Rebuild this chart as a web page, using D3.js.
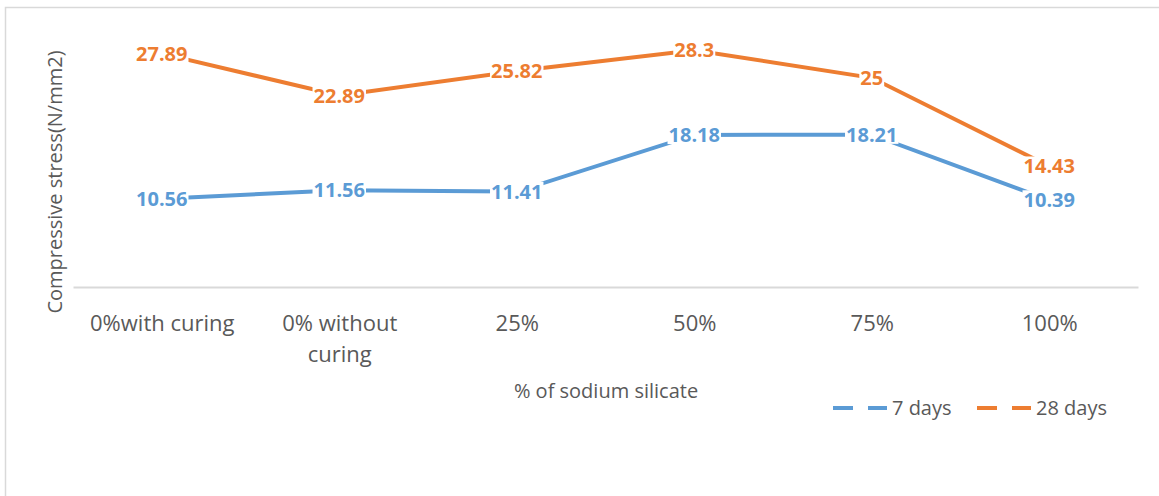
<!DOCTYPE html>
<html>
<head>
<meta charset="utf-8">
<script src="https://cdn.jsdelivr.net/npm/d3@7"></script>
<style>
  body { margin: 0; background: #fff; }
  text { font-family: "Open Sans", sans-serif; }
</style>
</head>
<body>
<svg id="chart"></svg>
<script>
var categories = ["0%with curing", "0% without curing", "25%", "50%", "75%", "100%"];
var days7 = [10.56, 11.56, 11.41, 18.18, 18.21, 10.39];
var days28 = [27.89, 22.89, 25.82, 28.3, 25, 14.43];
var seriesNames = ["7 days", "28 days"];
var colors = ["#5B9BD5", "#ED7D31"];

function drawChart() {
    var svg = d3.select("#chart");
    var width = 1159, height = 496;
    svg.attr("width", width).attr("height", height);

    // chart frame
    svg.append("rect")
        .attr("x", 5.5).attr("y", 7.5)
        .attr("width", width + 10).attr("height", height + 10)
        .attr("fill", "none").attr("stroke", "#d9d9d9").attr("stroke-width", 1.5);

    var xScale = d3.scalePoint().domain(categories).range([73, 1138]).padding(0.5);
    var yScale = d3.scaleLinear().domain([0, 30]).range([287, 36]);

    var xAxis = d3.axisBottom(xScale).tickSize(0);
    var gx = svg.append("g").attr("transform", "translate(0,287)").call(xAxis);
    gx.select(".domain").attr("stroke", "#d9d9d9").attr("stroke-width", 2);
    gx.selectAll(".tick text")
        .attr("y", 44).attr("dy", 0)
        .attr("fill", "#595959")
        .style("font-size", "22px")
        .call(wrap, 170);

    // axis titles
    svg.append("text")
        .attr("transform", "translate(62,182) rotate(-90)")
        .attr("text-anchor", "middle")
        .attr("fill", "#595959")
        .style("font-size", "20px")
        .text("Compressive stress(N/mm2)");

    svg.append("text")
        .attr("x", 606).attr("y", 398)
        .attr("text-anchor", "middle")
        .attr("fill", "#595959")
        .style("font-size", "20px")
        .text("% of sodium silicate");

    var line = d3.line()
        .x(function(d, i) { return xScale(categories[i]); })
        .y(function(d) { return yScale(d); });

    var allSeries = [days7, days28];
    allSeries.forEach(function(values, s) {
        svg.append("path")
            .attr("d", line(values))
            .attr("fill", "none")
            .attr("stroke", colors[s])
            .attr("stroke-width", 4);
    });

    allSeries.forEach(function(values, s) {
        values.forEach(function(v, i) {
            var g = svg.append("g");
            var t = g.append("text")
                .attr("x", xScale(categories[i]))
                .attr("y", yScale(v))
                .attr("dy", "0.36em")
                .attr("text-anchor", "middle")
                .attr("fill", colors[s])
                .style("font-size", "20px")
                .style("font-weight", "bold")
                .text(v);
            var bb = t.node().getBBox();
            g.insert("rect", "text")
                .attr("x", bb.x - 1).attr("y", bb.y + 4)
                .attr("width", bb.width + 2).attr("height", bb.height - 8)
                .attr("fill", "#fff");
        });
    });

    // legend
    var legendX = [833, 977];
    seriesNames.forEach(function(name, s) {
        svg.append("line")
            .attr("x1", legendX[s]).attr("y1", 408)
            .attr("x2", legendX[s] + 54).attr("y2", 408)
            .attr("stroke", colors[s]).attr("stroke-width", 4)
            .attr("stroke-dasharray", "20,15");
        svg.append("text")
            .attr("x", legendX[s] + 59).attr("y", 415)
            .attr("fill", "#595959")
            .style("font-size", "20px")
            .text(name);
    });
}

function wrap(texts, maxWidth) {
    texts.each(function() {
        var text = d3.select(this);
        var words = text.text().split(" ");
        var y = text.attr("y");
        text.text(null);
        var lines = [];
        var current = [];
        var tspan = text.append("tspan").attr("x", 0).attr("y", y);
        words.forEach(function(w) {
            current.push(w);
            tspan.text(current.join(" "));
            if (tspan.node().getComputedTextLength() > maxWidth && current.length > 1) {
                current.pop();
                lines.push(current.join(" "));
                current = [w];
            }
        });
        lines.push(current.join(" "));
        text.text(null);
        lines.forEach(function(l, k) {
            text.append("tspan").attr("x", 0).attr("y", +y + k * 31).text(l);
        });
    });
}

drawChart();
</script>
</body>
</html>
